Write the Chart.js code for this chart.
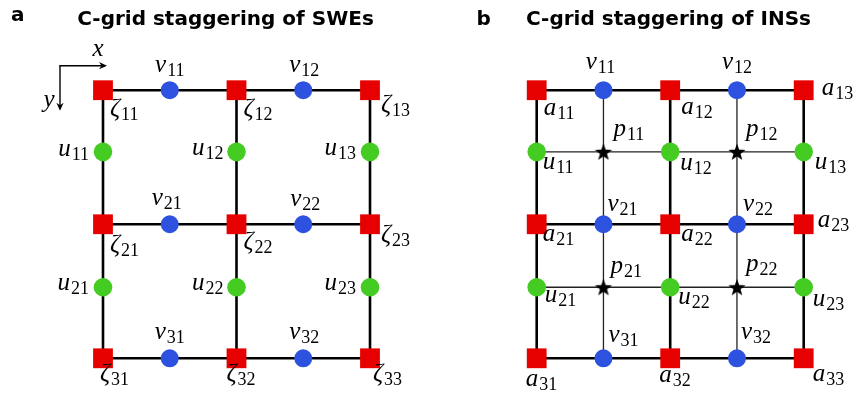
<!DOCTYPE html>
<html>
<head>
<meta charset="utf-8">
<script src="https://cdn.jsdelivr.net/npm/chart.js@4/dist/chart.umd.min.js"></script>
<style>
  html, body { margin: 0; padding: 0; background: #fff; }
  #wrap { position: relative; width: 860px; height: 402px; }
  .panel { position: absolute; top: 0; width: 430px; height: 402px; }
</style>
</head>
<body>
<div id="wrap">
  <div class="panel" style="left:0"><canvas id="swe" width="430" height="402"></canvas></div>
  <div class="panel" style="left:430px"><canvas id="ins" width="430" height="402"></canvas></div>
</div>
<script>
// Staggered grid coordinates in cell units: corners at 0, 1, 2, faces/centres between them
const colPos = [0, 0.5, 1, 1.5, 2];
const rowPos = [0, 0.46, 1, 1.47, 2];

// Nodes: [column index, row index, subscript]
const cornerNodes = [[0,0,'11'],[2,0,'12'],[4,0,'13'],[0,2,'21'],[2,2,'22'],[4,2,'23'],[0,4,'31'],[2,4,'32'],[4,4,'33']];
const vNodes      = [[1,0,'11'],[3,0,'12'],[1,2,'21'],[3,2,'22'],[1,4,'31'],[3,4,'32']];
const uNodes      = [[0,1,'11'],[2,1,'12'],[4,1,'13'],[0,3,'21'],[2,3,'22'],[4,3,'23']];
const pNodes      = [[1,1,'11'],[3,1,'12'],[1,3,'21'],[3,3,'22']];

// Grid lines (indices into colPos / rowPos)
const cellEdges = [0, 2, 4];
const cellMids  = [1, 3];

const titles = ['C-grid staggering of SWEs', 'C-grid staggering of INSs'];
const panelTags = ['a', 'b'];

const RED = '#e60000', BLUE = '#2d52e0', GREEN = '#44cc22';

// Label offsets from the node (px): [dx, dy to subscript baseline, align]
const sweOffsets = {
  zeta: { '11':[7,30,'left'], '12':[7,30,'left'], '13':[11,26,'left'],
          '21':[7,32,'left'], '22':[7,29,'left'], '23':[11,22,'left'],
          '31':[-3,27,'left'], '32':[-10,27,'left'], '33':[3,27,'left'] },
  v:    { '11':[0,-14,'center'], '12':[1,-14,'center'], '21':[-3,-15,'center'],
          '22':[2,-14,'center'], '31':[0,-15,'center'], '32':[1,-15,'center'] },
  u:    { '11':[-14,8,'right'], '12':[-13,7,'right'], '13':[-14,7,'right'],
          '21':[-14,7,'right'], '22':[-13,7,'right'], '23':[-14,7,'right'] }
};
const insOffsets = {
  a: { '11':[7,29,'left'], '12':[11,28,'left'], '13':[18,9,'left'],
       '21':[6,21,'left'], '22':[11,21,'left'], '23':[14,7,'left'],
       '31':[-11,32,'left'], '32':[-11,28,'left'], '33':[9,27,'left'] },
  v: { '11':[-3,-17,'center'], '12':[0,-17,'center'], '21':[4,-9,'left'],
       '22':[6,-9,'left'], '31':[5,-12,'left'], '32':[4,-15,'left'] },
  u: { '11':[6,21,'left'], '12':[10,22,'left'], '13':[11,21,'left'],
       '21':[8,19,'left'], '22':[8,21,'left'], '23':[9,23,'left'] },
  p: { '11':[10,-12,'left'], '12':[9,-12,'left'], '21':[7,-10,'left'], '22':[9,-12,'left'] }
};

const MAIN_FONT = 'italic 25px "Liberation Serif"';
const SUB_FONT = '18px "Liberation Serif"';

function toPoints(nodes) {
  return nodes.map(n => ({ x: colPos[n[0]], y: rowPos[n[1]] }));
}

function gridLineSets(indices, width, color, order) {
  const sets = [];
  indices.forEach(i => {
    sets.push({ data: [{x: colPos[i], y: rowPos[0]}, {x: colPos[i], y: rowPos[4]}] });
    sets.push({ data: [{x: colPos[0], y: rowPos[i]}, {x: colPos[4], y: rowPos[i]}] });
  });
  return sets.map(s => Object.assign(s, {
    showLine: true, borderColor: color, borderWidth: width, pointRadius: 0,
    borderCapStyle: 'square', order: order, clip: false
  }));
}

function starImage(outer, inner, color) {
  const s = Math.ceil(outer * 2) + 2;
  const c = document.createElement('canvas');
  c.width = s; c.height = s;
  const g = c.getContext('2d');
  g.fillStyle = color;
  g.beginPath();
  for (let k = 0; k < 10; k++) {
    const r = k % 2 === 0 ? outer : inner;
    const a = -Math.PI / 2 + k * Math.PI / 5;
    const px = s / 2 + r * Math.cos(a), py = s / 2 + 0.8 + r * Math.sin(a);
    if (k === 0) g.moveTo(px, py); else g.lineTo(px, py);
  }
  g.closePath();
  g.fill();
  return c;
}

function drawMath(ctx, sym, sub, x, subBase, align) {
  ctx.font = MAIN_FONT;
  const wm = ctx.measureText(sym).width;
  ctx.font = SUB_FONT;
  const ws = ctx.measureText(sub).width;
  const total = wm + 1 + ws;
  let x0 = x;
  if (align === 'center') x0 = x - total / 2;
  else if (align === 'right') x0 = x - total;
  ctx.textAlign = 'left';
  ctx.font = MAIN_FONT;
  ctx.fillText(sym, x0, subBase - 4);
  ctx.font = SUB_FONT;
  ctx.fillText(sub, x0 + wm + 1, subBase);
}

function arrow(ctx, x1, y1, x2, y2) {
  const ang = Math.atan2(y2 - y1, x2 - x1);
  ctx.beginPath();
  ctx.moveTo(x1, y1);
  ctx.lineTo(x2 - 2 * Math.cos(ang), y2 - 2 * Math.sin(ang));
  ctx.stroke();
  ctx.save();
  ctx.translate(x2, y2);
  ctx.rotate(ang);
  ctx.beginPath();
  ctx.moveTo(0, 0);
  ctx.lineTo(-8, -3.6);
  ctx.lineTo(-5.5, 0);
  ctx.lineTo(-8, 3.6);
  ctx.closePath();
  ctx.fill();
  ctx.restore();
}

const annotations = {
  id: 'annotations',
  afterDatasetsDraw(chart, args, opts) {
    const ctx = chart.ctx;
    const xs = chart.scales.x, ys = chart.scales.y;
    ctx.save();
    ctx.fillStyle = '#000';
    ctx.strokeStyle = '#000';
    ctx.textBaseline = 'alphabetic';

    // node labels
    opts.groups.forEach(g => {
      g.nodes.forEach(n => {
        const off = g.offsets[n[2]];
        const px = xs.getPixelForValue(colPos[n[0]]) + off[0];
        const py = ys.getPixelForValue(rowPos[n[1]]) + off[1];
        drawMath(ctx, g.symbol, n[2], px, py, off[2]);
      });
    });

    // panel tag and title
    ctx.font = 'bold 20px "DejaVu Sans"';
    ctx.textAlign = 'left';
    ctx.fillText(opts.tag, opts.tagX, opts.tagY);
    ctx.textAlign = 'center';
    ctx.fillText(opts.title, opts.titleX, 24.5);

    // coordinate direction arrows
    if (opts.axesArrows) {
      const ox = xs.getPixelForValue(colPos[0]) - 43;
      const oy = ys.getPixelForValue(rowPos[0]) - 24.5;
      ctx.lineWidth = 1.4;
      arrow(ctx, ox - 0.7, oy, ox + 47, oy);
      arrow(ctx, ox, oy, ox, oy + 45);
      ctx.font = 'italic 25px "Liberation Serif"';
      ctx.textAlign = 'center';
      ctx.fillText('x', ox + 38, oy - 10);
      ctx.fillText('y', ox - 11, oy + 41);
    }
    ctx.restore();
  }
};

function baseOptions(pad, plug) {
  return {
    responsive: false,
    animation: false,
    events: [],
    layout: { padding: pad, autoPadding: false },
    plugins: { legend: { display: false }, tooltip: { enabled: false }, annotations: plug },
    scales: {
      x: { type: 'linear', display: false, min: -0.6, max: 2.4 },
      y: { type: 'linear', display: false, reverse: true, min: -0.5, max: 2.25 }
    }
  };
}

function markerSet(nodes, style, radius, color) {
  return {
    data: toPoints(nodes), pointStyle: style, pointRadius: radius,
    backgroundColor: color, pointBackgroundColor: color, pointBorderWidth: 0,
    borderWidth: 0, showLine: false, order: 0, clip: false
  };
}

// Panel a: shallow-water equations
new Chart(document.getElementById('swe'), {
  type: 'scatter',
  data: {
    datasets: [
      markerSet(cornerNodes, 'rect', 14, RED),
      markerSet(vNodes, 'circle', 9, BLUE),
      markerSet(uNodes, 'circle', 9.3, GREEN),
      ...gridLineSets(cellEdges, 2.6, '#000', 2)
    ]
  },
  options: baseOptions({ left: 22.9, right: 6.6, top: 23.2, bottom: 10.2 }, {
    tag: panelTags[0], tagX: 11, tagY: 21, title: titles[0], titleX: 225.5, axesArrows: true,
    groups: [
      { symbol: 'ζ', nodes: cornerNodes, offsets: sweOffsets.zeta },
      { symbol: 'v', nodes: vNodes, offsets: sweOffsets.v },
      { symbol: 'u', nodes: uNodes, offsets: sweOffsets.u }
    ]
  }),
  plugins: [annotations]
});

// Panel b: incompressible Navier-Stokes
new Chart(document.getElementById('ins'), {
  type: 'scatter',
  data: {
    datasets: [
      markerSet(pNodes, starImage(9, 3.7, '#000'), 9, '#000'),
      markerSet(cornerNodes, 'rect', 14, RED),
      markerSet(vNodes, 'circle', 9, BLUE),
      markerSet(uNodes, 'circle', 9.3, GREEN),
      ...gridLineSets(cellEdges, 2.6, '#000', 2),
      ...gridLineSets(cellMids, 1.3, '#222', 3)
    ]
  },
  options: baseOptions({ left: 26.6, right: 2.9, top: 23.2, bottom: 10.2 }, {
    tag: panelTags[1], tagX: 46.5, tagY: 25, title: titles[1], titleX: 238.5, axesArrows: false,
    groups: [
      { symbol: 'a', nodes: cornerNodes, offsets: insOffsets.a },
      { symbol: 'v', nodes: vNodes, offsets: insOffsets.v },
      { symbol: 'u', nodes: uNodes, offsets: insOffsets.u },
      { symbol: 'p', nodes: pNodes, offsets: insOffsets.p }
    ]
  }),
  plugins: [annotations]
});
</script>
</body>
</html>
